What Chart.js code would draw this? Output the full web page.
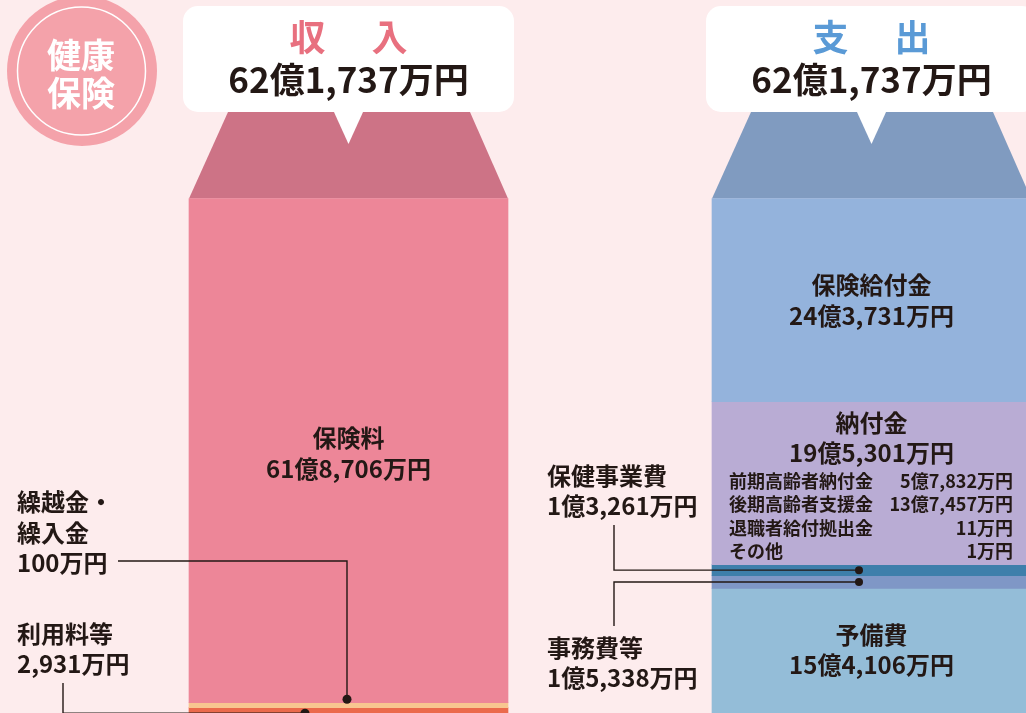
<!DOCTYPE html>
<html lang="ja">
<head>
<meta charset="UTF-8">
<title>健康保険 収入・支出</title>
<script src="https://cdn.jsdelivr.net/npm/chart.js@4.4.1/dist/chart.umd.min.js"></script>
<style>
  html, body { margin: 0; padding: 0; background: #fdeced; overflow: hidden; }
  .chart-box { position: relative; width: 1026px; height: 713px; }
</style>
</head>
<body>
<div class="chart-box"><canvas id="budgetChart"></canvas></div>
<script>
// 単位: 万円
const categories = ['収入', '支出'];

const incomeLabels = ['保険料', '繰越金・繰入金', '利用料等'];
const incomeValues = [618706, 100, 2931];

const expenseLabels = ['保険給付金', '納付金', '保健事業費', '事務費等', '予備費'];
const expenseValues = [243731, 195301, 13261, 15338, 154106];

// 納付金の内訳
const paymentLabels = ['前期高齢者納付金', '後期高齢者支援金', '退職者給付拠出金', 'その他'];
const paymentValues = [57832, 137457, 11, 1];

const incomeColors = ['#ed8698', '#f8c690', '#eb6a4c'];
const expenseColors = ['#94b3dc', '#b9acd4', '#3e7fab', '#7f97c6', '#94bdd8'];

const INK = '#231815';
const FONT = '"Noto Sans CJK JP", "Noto Sans", sans-serif';
const WEIGHT = '700';

function fmt(man) {
    const oku = Math.floor(man / 10000);
    const rest = man % 10000;
    return (oku ? oku + '億' : '') + (rest ? rest.toLocaleString('en-US') + '万' : '') + '円';
}

const sum = arr => arr.reduce((a, b) => a + b, 0);

const datasets = [];
incomeLabels.forEach((label, i) => {
    datasets.push({
        label: label,
        data: [incomeValues[i], null],
        backgroundColor: incomeColors[i],
        yAxisID: 'yIn',
        minBarLength: i === 1 ? 5 : (i === 2 ? 20 : 0)
    });
});
expenseLabels.forEach((label, i) => {
    datasets.push({
        label: label,
        data: [null, expenseValues[i]],
        backgroundColor: expenseColors[i],
        yAxisID: 'yOut'
    });
});

function barBox(chart, dsIndex, idx) {
    const el = chart.getDatasetMeta(dsIndex).data[idx];
    return {
        x: el.x,
        w: el.width,
        top: Math.min(el.y, el.base),
        bottom: Math.max(el.y, el.base)
    };
}

function text(ctx, str, x, y, size, align, color) {
    ctx.font = WEIGHT + ' ' + size + 'px ' + FONT;
    ctx.fillStyle = color || INK;
    ctx.textAlign = align || 'center';
    ctx.textBaseline = 'middle';
    ctx.fillText(str, x, y);
}

function dot(ctx, x, y, r) {
    ctx.fillStyle = INK;
    ctx.beginPath();
    ctx.arc(x, y, r, 0, Math.PI * 2);
    ctx.fill();
}

function line(ctx, pts) {
    ctx.strokeStyle = INK;
    ctx.lineWidth = 1.4;
    ctx.beginPath();
    ctx.moveTo(pts[0][0], pts[0][1]);
    for (let i = 1; i < pts.length; i++) ctx.lineTo(pts[i][0], pts[i][1]);
    ctx.stroke();
}

function drawHeader(ctx, box, roofColor, titleColor, title, total) {
    const left = box.x - box.w / 2;
    const right = box.x + box.w / 2;
    // 台形
    ctx.fillStyle = roofColor;
    ctx.beginPath();
    ctx.moveTo(left + 39, 112);
    ctx.lineTo(right - 38, 112);
    ctx.lineTo(right, box.top);
    ctx.lineTo(left, box.top);
    ctx.closePath();
    ctx.fill();
    // 吹き出し
    ctx.fillStyle = '#ffffff';
    ctx.beginPath();
    ctx.roundRect(left - 6, 6, box.w + 12, 106, 15);
    ctx.fill();
    ctx.beginPath();
    ctx.moveTo(box.x - 15, 111);
    ctx.lineTo(box.x + 15, 111);
    ctx.lineTo(box.x, 144);
    ctx.closePath();
    ctx.fill();
    text(ctx, title[0], box.x - 41, 37, 36, 'center', titleColor);
    text(ctx, title[1], box.x + 41, 37, 36, 'center', titleColor);
    text(ctx, fmt(total), box.x, 80, 35);
}

const infographic = {
    id: 'infographic',
    beforeDatasetsDraw(chart) {
        const ctx = chart.ctx;
        ctx.save();
        // 健康保険バッジ
        ctx.fillStyle = '#f4a2aa';
        ctx.beginPath();
        ctx.arc(82, 71, 75, 0, Math.PI * 2);
        ctx.fill();
        ctx.strokeStyle = '#ffffff';
        ctx.lineWidth = 1.5;
        ctx.beginPath();
        ctx.arc(81.5, 71, 64, 0, Math.PI * 2);
        ctx.stroke();
        text(ctx, '健康', 81, 55, 34, 'center', '#ffffff');
        text(ctx, '保険', 81, 93, 34, 'center', '#ffffff');

        drawHeader(ctx, barBox(chart, 0, 0), '#cd7386', '#e8707f', categories[0], sum(incomeValues));
        drawHeader(ctx, barBox(chart, 3, 1), '#809bc0', '#5a9ad6', categories[1], sum(expenseValues));
        ctx.restore();
    },
    afterDatasetsDraw(chart) {
        const ctx = chart.ctx;
        ctx.save();

        // 収入
        const premium = barBox(chart, 0, 0);
        const pMid = (premium.top + premium.bottom) / 2;
        text(ctx, incomeLabels[0], premium.x, pMid - 13, 24);
        text(ctx, fmt(incomeValues[0]), premium.x, pMid + 18, 24);

        const carry = barBox(chart, 1, 0);
        text(ctx, '繰越金・', 17, 502, 24, 'left');
        text(ctx, '繰入金', 17, 533, 24, 'left');
        text(ctx, fmt(incomeValues[1]), 17, 563, 24, 'left');
        const cDotX = carry.x - 1.5, cDotY = carry.top - 3.5;
        line(ctx, [[118, 561], [cDotX, 561], [cDotX, cDotY]]);
        dot(ctx, cDotX, cDotY, 4.5);

        const fee = barBox(chart, 2, 0);
        text(ctx, incomeLabels[2], 17, 634, 24, 'left');
        text(ctx, fmt(incomeValues[2]), 17, 664, 24, 'left');
        const fDotX = fee.x - 43.5, fDotY = carry.bottom + 5.5;
        line(ctx, [[63, 683], [63, fDotY], [fDotX, fDotY]]);
        dot(ctx, fDotX, fDotY, 4.5);

        // 支出
        const benefit = barBox(chart, 3, 1);
        const bMid = (benefit.top + benefit.bottom) / 2;
        text(ctx, expenseLabels[0], benefit.x, bMid - 15, 24);
        text(ctx, fmt(expenseValues[0]), benefit.x, bMid + 16, 24);

        const pay = barBox(chart, 4, 1);
        text(ctx, expenseLabels[1], pay.x, pay.top + 21, 24);
        text(ctx, fmt(expenseValues[1]), pay.x, pay.top + 51, 24);
        const rowLeft = pay.x - pay.w / 2 + 17;
        const rowRight = pay.x + pay.w / 2 - 18;
        paymentLabels.forEach((label, i) => {
            const y = pay.top + 79 + i * 23.5;
            text(ctx, label, rowLeft, y, 18, 'left');
            text(ctx, fmt(paymentValues[i]), rowRight, y, 18, 'right');
        });

        const health = barBox(chart, 5, 1);
        const hDotX = health.x - 12.5, hDotY = (health.top + health.bottom) / 2;
        text(ctx, expenseLabels[2], 547, 476, 24, 'left');
        text(ctx, fmt(expenseValues[2]), 547, 506, 24, 'left');
        line(ctx, [[614, 525], [614, hDotY], [hDotX, hDotY]]);
        dot(ctx, hDotX, hDotY, 4);

        const admin = barBox(chart, 6, 1);
        const aDotY = (admin.top + admin.bottom) / 2;
        text(ctx, expenseLabels[3], 547, 648, 24, 'left');
        text(ctx, fmt(expenseValues[3]), 547, 678, 24, 'left');
        line(ctx, [[614, 626], [614, aDotY], [hDotX, aDotY]]);
        dot(ctx, hDotX, aDotY, 4);

        const reserve = barBox(chart, 7, 1);
        text(ctx, expenseLabels[4], reserve.x, reserve.top + 46, 24);
        text(ctx, fmt(expenseValues[4]), reserve.x, reserve.top + 76, 24);

        ctx.restore();
    }
};

new Chart(document.getElementById('budgetChart'), {
    type: 'bar',
    data: {
        labels: categories,
        datasets: datasets
    },
    options: {
        responsive: true,
        maintainAspectRatio: false,
        animation: false,
        layout: {
            padding: { left: 348.5, right: 154.5, top: 198.5, bottom: 0 }
        },
        datasets: {
            bar: {
                barThickness: 319,
                borderWidth: 0,
                clip: false
            }
        },
        plugins: {
            legend: { display: false },
            tooltip: { enabled: false }
        },
        scales: {
            x: { type: 'category', offset: false, stacked: true, display: false },
            yIn: { type: 'linear', stacked: true, reverse: true, min: 0, max: 631350, display: false },
            yOut: { type: 'linear', stacked: true, reverse: true, min: 0, max: 617000, display: false }
        }
    },
    plugins: [infographic]
});
</script>
</body>
</html>
